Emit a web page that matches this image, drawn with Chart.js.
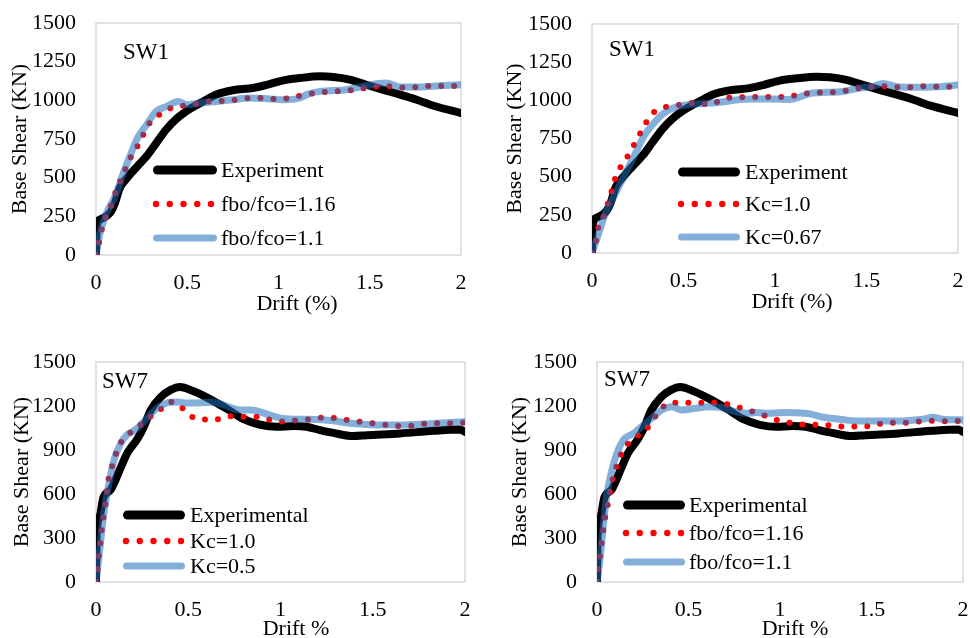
<!DOCTYPE html>
<html>
<head>
<meta charset="utf-8">
<title>Base shear vs drift</title>
<script src="https://cdn.jsdelivr.net/npm/chart.js@4.4.1/dist/chart.umd.min.js"></script>
<style>
  html, body { margin: 0; padding: 0; background: #ffffff; }
  #wrap { position: relative; width: 970px; height: 638px; overflow: hidden; }
  .panel { position: absolute; width: 485px; height: 319px; }
</style>
</head>
<body>
<div id="wrap">
  <div class="panel" style="left:0;top:0"><canvas id="p1" width="485" height="319"></canvas></div>
  <div class="panel" style="left:485px;top:0"><canvas id="p2" width="485" height="319"></canvas></div>
  <div class="panel" style="left:0;top:319px"><canvas id="p3" width="485" height="319"></canvas></div>
  <div class="panel" style="left:485px;top:319px"><canvas id="p4" width="485" height="319"></canvas></div>
</div>
<script>
// ---- Axis ticks ----
const driftTicks = [0, 0.5, 1, 1.5, 2];
const shearTicksSW1 = [0, 250, 500, 750, 1000, 1250, 1500];
const shearTicksSW7 = [0, 300, 600, 900, 1200, 1500];

// ---- SW1: experimental response ----
const sw1ExpDrift = [0, 0.003, 0.02, 0.077, 0.104, 0.13, 0.168, 0.22, 0.278, 0.33, 0.387, 0.44, 0.515, 0.588, 0.66, 0.75, 0.86, 0.935, 1.026, 1.118, 1.227, 1.30, 1.39, 1.48, 1.57, 1.666, 1.757, 1.85, 2.0];
const sw1ExpShear = [0, 170, 228, 272, 336, 433, 495, 565, 640, 724, 815, 880, 945, 993, 1038, 1065, 1080, 1100, 1129, 1144, 1155, 1151, 1134, 1101, 1069, 1037, 1004, 965, 918];

// ---- SW1: fbo/fco = 1.16 ----
const sw1Fbo116Drift = [0, 0.018, 0.033, 0.058, 0.09, 0.113, 0.146, 0.168, 0.205, 0.245, 0.272, 0.321, 0.38, 0.438, 0.506, 0.575, 0.648, 0.723, 0.793, 0.866, 0.935, 1.005, 1.078, 1.15, 1.224, 1.293, 1.366, 1.44, 1.51, 1.58, 1.655, 1.73, 1.80, 1.876, 1.95, 2.0];
const sw1Fbo116Shear = [0, 88, 172, 259, 340, 427, 510, 575, 664, 737, 817, 881, 935, 957, 970, 981, 996, 996, 1011, 1015, 1013, 1006, 1021, 1037, 1052, 1056, 1062, 1073, 1086, 1093, 1084, 1082, 1093, 1093, 1093, 1095];

// ---- SW1: fbo/fco = 1.1 ----
const sw1Fbo11Drift = [0, 0.022, 0.058, 0.104, 0.15, 0.186, 0.223, 0.278, 0.33, 0.387, 0.45, 0.497, 0.57, 0.66, 0.75, 0.84, 0.935, 1.026, 1.118, 1.154, 1.227, 1.373, 1.48, 1.59, 1.666, 1.775, 1.885, 2.0];
const sw1Fbo11Shear = [0, 142, 272, 379, 530, 638, 746, 843, 929, 961, 993, 972, 983, 993, 1004, 1015, 1011, 1004, 1015, 1037, 1058, 1069, 1095, 1112, 1086, 1086, 1095, 1101];

// ---- SW1: Kc = 1.0 ----
const sw1Kc10Drift = [0, 0.024, 0.036, 0.069, 0.091, 0.113, 0.133, 0.173, 0.209, 0.246, 0.282, 0.319, 0.373, 0.446, 0.506, 0.574, 0.637, 0.71, 0.78, 0.85, 0.92, 0.996, 1.07, 1.14, 1.215, 1.29, 1.36, 1.43, 1.506, 1.58, 1.65, 1.725, 1.80, 1.87, 1.94, 2.0];
const sw1Kc10Shear = [0, 87, 175, 254, 341, 426, 514, 590, 663, 744, 824, 901, 945, 964, 975, 986, 971, 1002, 1021, 1019, 1024, 1021, 1024, 1037, 1052, 1052, 1056, 1074, 1085, 1093, 1085, 1085, 1093, 1089, 1089, 1080];

// ---- SW1: Kc = 0.67 ----
const sw1Kc067Drift = [0, 0.036, 0.073, 0.118, 0.173, 0.228, 0.282, 0.337, 0.39, 0.464, 0.537, 0.628, 0.72, 0.81, 0.9, 0.99, 1.08, 1.14, 1.19, 1.357, 1.45, 1.54, 1.59, 1.667, 1.776, 1.885, 2.0];
const sw1Kc067Shear = [0, 127, 258, 367, 499, 630, 761, 849, 914, 958, 973, 980, 991, 1006, 1008, 1008, 1006, 1024, 1045, 1056, 1078, 1093, 1111, 1089, 1085, 1089, 1100];

// ---- SW7: experimental response ----
const sw7ExpDrift = [0, 0.003, 0.02, 0.04, 0.08, 0.134, 0.17, 0.224, 0.26, 0.296, 0.35, 0.405, 0.455, 0.53, 0.62, 0.71, 0.80, 0.89, 0.98, 1.07, 1.14, 1.214, 1.286, 1.395, 1.467, 1.648, 1.83, 1.973, 2.0];
const sw7ExpShear = [0, 310, 446, 575, 630, 780, 880, 975, 1060, 1170, 1260, 1310, 1330, 1300, 1245, 1180, 1110, 1072, 1058, 1063, 1058, 1036, 1017, 995, 1001, 1013, 1031, 1040, 1024];

// ---- SW7: Kc = 1.0 ----
const sw7Kc10Drift = [0, 0.01, 0.016, 0.025, 0.033, 0.043, 0.054, 0.061, 0.076, 0.098, 0.121, 0.166, 0.224, 0.28, 0.341, 0.401, 0.46, 0.515, 0.585, 0.66, 0.732, 0.807, 0.88, 0.952, 1.024, 1.1, 1.176, 1.252, 1.322, 1.398, 1.469, 1.545, 1.62, 1.69, 1.767, 1.843, 1.919, 2.0];
const sw7Kc10Shear = [0, 95, 186, 281, 372, 465, 555, 650, 741, 832, 922, 995, 1054, 1115, 1167, 1228, 1194, 1131, 1108, 1110, 1131, 1126, 1126, 1104, 1093, 1105, 1111, 1123, 1111, 1098, 1086, 1077, 1064, 1064, 1077, 1082, 1082, 1086];

// ---- SW7: Kc = 0.5 ----
const sw7Kc05Drift = [0, 0.022, 0.04, 0.061, 0.085, 0.103, 0.134, 0.17, 0.22, 0.275, 0.33, 0.386, 0.44, 0.49, 0.564, 0.636, 0.708, 0.766, 0.84, 0.89, 0.943, 1.015, 1.105, 1.196, 1.286, 1.377, 1.467, 1.557, 1.648, 1.738, 1.83, 2.0];
const sw7Kc05Shear = [0, 242, 446, 610, 764, 854, 945, 1005, 1045, 1115, 1185, 1222, 1228, 1220, 1222, 1226, 1200, 1175, 1172, 1160, 1138, 1115, 1110, 1108, 1099, 1082, 1074, 1070, 1070, 1074, 1081, 1092];

// ---- SW7: fbo/fco = 1.16 ----
const sw7Fbo116Drift = [0, 0.005, 0.018, 0.027, 0.036, 0.049, 0.064, 0.076, 0.095, 0.118, 0.155, 0.218, 0.282, 0.342, 0.405, 0.482, 0.555, 0.627, 0.704, 0.776, 0.849, 0.922, 0.995, 1.067, 1.14, 1.213, 1.285, 1.358, 1.433, 1.51, 1.58, 1.658, 1.73, 1.81, 1.88, 1.958, 2.0];
const sw7Fbo116Shear = [0, 95, 186, 281, 372, 470, 560, 651, 742, 833, 923, 992, 1060, 1169, 1223, 1223, 1223, 1223, 1214, 1189, 1162, 1132, 1100, 1082, 1073, 1073, 1066, 1060, 1060, 1066, 1087, 1085, 1091, 1100, 1096, 1098, 1098];

// ---- SW7: fbo/fco = 1.1 ----
const sw7Fbo11Drift = [0, 0.018, 0.036, 0.055, 0.082, 0.109, 0.145, 0.2, 0.255, 0.31, 0.353, 0.408, 0.463, 0.536, 0.61, 0.673, 0.717, 0.81, 0.873, 0.936, 1.018, 1.08, 1.164, 1.236, 1.327, 1.418, 1.51, 1.6, 1.69, 1.78, 1.836, 1.89, 2.0];
const sw7Fbo11Shear = [0, 175, 402, 606, 765, 878, 969, 1014, 1071, 1128, 1173, 1195, 1173, 1184, 1195, 1191, 1173, 1150, 1155, 1150, 1155, 1154, 1146, 1123, 1110, 1098, 1098, 1098, 1100, 1110, 1123, 1110, 1105];

// ---- Styling ----
const SERIF = "'Liberation Serif', 'Times New Roman', serif";
const INK = '#000000';
const EXP_COLOR = '#000000';
const DOT_COLOR = '#ff0000';
const BAND_COLOR = 'rgba(30, 110, 185, 0.55)';
const FRAME_COLOR = '#d9d9d9';

function toPoints(xs, ys) {
  return xs.map((x, i) => ({ x: x, y: ys[i] }));
}

// kind: 'exp' = thick black, 'dot' = red dotted, 'band' = translucent blue
function makeSeries(label, xs, ys, kind) {
  const base = {
    label: label,
    data: toPoints(xs, ys),
    pointRadius: 0,
    fill: false,
    cubicInterpolationMode: 'monotone',
    borderCapStyle: 'round',
    borderJoinStyle: 'round'
  };
  if (kind === 'exp') {
    return Object.assign(base, { borderColor: EXP_COLOR, borderWidth: 8, order: 2, kind: kind });
  }
  if (kind === 'dot') {
    return Object.assign(base, { borderColor: DOT_COLOR, borderWidth: 6, borderDash: [0, 13], order: 1, kind: kind });
  }
  return Object.assign(base, { borderColor: BAND_COLOR, borderWidth: 7, order: 0, kind: kind });
}

// Frame, specimen tag, in-plot legend and horizontal axis caption
const panelDecor = {
  id: 'panelDecor',
  beforeDatasetsDraw(chart) {
    const a = chart.chartArea;
    const ctx = chart.ctx;
    ctx.save();
    ctx.strokeStyle = FRAME_COLOR;
    ctx.lineWidth = 1.5;
    ctx.strokeRect(a.left, a.top, a.right - a.left, a.bottom - a.top);
    ctx.restore();
  },
  afterDraw(chart, args, opts) {
    const ctx = chart.ctx;
    ctx.save();
    ctx.fillStyle = INK;
    ctx.textBaseline = 'middle';
    ctx.textAlign = 'left';
    ctx.font = '23px ' + SERIF;
    ctx.fillText(opts.tag, opts.tagX, opts.tagY);

    // legend
    const lg = opts.legend;
    ctx.font = '22px ' + SERIF;
    chart.data.datasets.slice().sort((p, q) => q.order - p.order).forEach((ds, i) => {
      const y = lg.rows[i];
      ctx.save();
      ctx.strokeStyle = ds.borderColor;
      ctx.lineCap = 'round';
      if (ds.kind === 'dot') {
        ctx.fillStyle = ds.borderColor;
        for (let k = 0; k < 5; k++) {
          ctx.beginPath();
          ctx.arc(lg.x0 + 3 + k * 13.75, y, 3.2, 0, Math.PI * 2);
          ctx.fill();
        }
      } else {
        const w = ds.kind === 'exp' ? 9 : 7;
        ctx.lineWidth = w;
        ctx.beginPath();
        ctx.moveTo(lg.x0 + w / 2, y);
        ctx.lineTo(lg.x1 - w / 2, y);
        ctx.stroke();
      }
      ctx.restore();
      ctx.fillStyle = INK;
      ctx.fillText(ds.label, lg.textX, y + 1);
    });

    // horizontal axis caption
    ctx.textAlign = 'center';
    ctx.textBaseline = 'alphabetic';
    ctx.font = '22px ' + SERIF;
    ctx.fillText(opts.xTitle, opts.xTitleX, opts.xTitleY);
    ctx.restore();
  }
};

function makePanel(canvasId, datasets, shearTicks, frame, decor) {
  const tickFont = { family: SERIF, size: 22 };
  return new Chart(document.getElementById(canvasId), {
    type: 'line',
    data: { datasets: datasets },
    options: {
      responsive: false,
      animation: false,
      events: [],
      layout: { padding: { left: 0, right: frame.padR, top: frame.padT, bottom: 0 } },
      plugins: {
        legend: { display: false },
        tooltip: { enabled: false },
        panelDecor: decor
      },
      scales: {
        x: {
          type: 'linear',
          min: driftTicks[0],
          max: driftTicks[driftTicks.length - 1],
          afterBuildTicks(axis) { axis.ticks = driftTicks.map(v => ({ value: v })); },
          ticks: { color: INK, font: tickFont, padding: 15, maxRotation: 0, callback: v => String(v) },
          grid: { display: false, drawTicks: false },
          border: { display: false },
          afterFit(axis) { axis.height = frame.xH; axis.paddingLeft = 0; axis.paddingRight = 0; }
        },
        y: {
          type: 'linear',
          min: shearTicks[0],
          max: shearTicks[shearTicks.length - 1],
          afterBuildTicks(axis) { axis.ticks = shearTicks.map(v => ({ value: v })); },
          ticks: { color: INK, font: tickFont, padding: 20, callback: v => String(v) },
          grid: { display: false, drawTicks: false },
          border: { display: false },
          title: {
            display: true,
            text: 'Base Shear (KN)',
            color: INK,
            font: { family: SERIF, size: 22 },
            padding: { top: frame.yTitlePad, bottom: 0 }
          },
          afterFit(axis) { axis.width = frame.yW; axis.paddingTop = 0; axis.paddingBottom = 0; }
        }
      }
    },
    plugins: [panelDecor]
  });
}

// SW1 — confinement ratio fbo/fco
makePanel('p1', [
  makeSeries('fbo/fco=1.1', sw1Fbo11Drift, sw1Fbo11Shear, 'band'),
  makeSeries('fbo/fco=1.16', sw1Fbo116Drift, sw1Fbo116Shear, 'dot'),
  makeSeries('Experiment', sw1ExpDrift, sw1ExpShear, 'exp')
], shearTicksSW1,
  { yW: 96, padR: 24, padT: 23, xH: 64, yTitlePad: 7 },
  { tag: 'SW1', tagX: 123, tagY: 53,
    legend: { x0: 153, x1: 217, textX: 221, rows: [170, 204, 238] },
    xTitle: 'Drift (%)', xTitleX: 297, xTitleY: 310 });

// SW1 — Kc
makePanel('p2', [
  makeSeries('Kc=0.67', sw1Kc067Drift, sw1Kc067Shear, 'band'),
  makeSeries('Kc=1.0', sw1Kc10Drift, sw1Kc10Shear, 'dot'),
  makeSeries('Experiment', sw1ExpDrift, sw1ExpShear, 'exp')
], shearTicksSW1,
  { yW: 107, padR: 12, padT: 24, xH: 66, yTitlePad: 17 },
  { tag: 'SW1', tagX: 124, tagY: 50,
    legend: { x0: 193, x1: 255, textX: 260, rows: [172, 204, 237] },
    xTitle: 'Drift (%)', xTitleX: 307, xTitleY: 308 });

// SW7 — Kc
makePanel('p3', [
  makeSeries('Kc=0.5', sw7Kc05Drift, sw7Kc05Shear, 'band'),
  makeSeries('Kc=1.0', sw7Kc10Drift, sw7Kc10Shear, 'dot'),
  makeSeries('Experimental', sw7ExpDrift, sw7ExpShear, 'exp')
], shearTicksSW7,
  { yW: 96, padR: 20, padT: 43, xH: 56, yTitlePad: 9 },
  { tag: 'SW7', tagX: 102, tagY: 63,
    legend: { x0: 123, x1: 185, textX: 190, rows: [196, 222, 247] },
    xTitle: 'Drift %', xTitleX: 296, xTitleY: 316 });

// SW7 — confinement ratio fbo/fco
makePanel('p4', [
  makeSeries('fbo/fco=1.1', sw7Fbo11Drift, sw7Fbo11Shear, 'band'),
  makeSeries('fbo/fco=1.16', sw7Fbo116Drift, sw7Fbo116Shear, 'dot'),
  makeSeries('Experimental', sw7ExpDrift, sw7ExpShear, 'exp')
], shearTicksSW7,
  { yW: 112, padR: 7, padT: 43, xH: 56, yTitlePad: 22 },
  { tag: 'SW7', tagX: 119, tagY: 61,
    legend: { x0: 138, x1: 200, textX: 204, rows: [186, 214, 243] },
    xTitle: 'Drift %', xTitleX: 310, xTitleY: 316 });
</script>
</body>
</html>
